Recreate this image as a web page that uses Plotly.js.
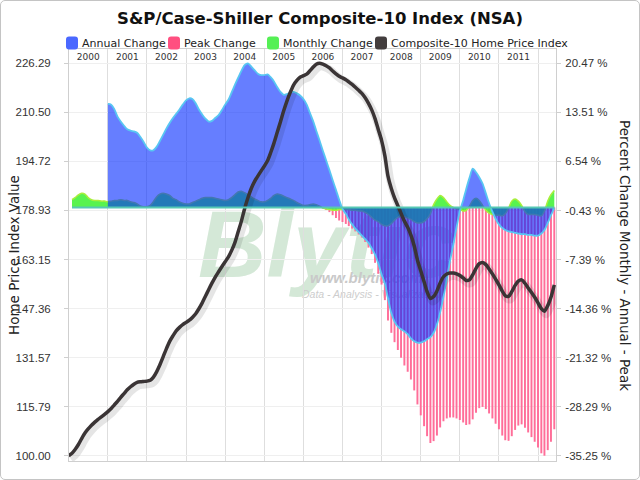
<!DOCTYPE html>
<html>
<head>
<meta charset="utf-8">
<script src="https://cdn.plot.ly/plotly-3.0.1.min.js"></script>
<style>
html,body{margin:0;padding:0;background:#fff;}
#wrap{position:relative;width:640px;height:480px;overflow:hidden;background:#fff;}
#wm{position:absolute;left:0;top:0;z-index:0;}
#chart{position:absolute;left:0;top:0;width:640px;height:480px;z-index:1;}
#frame{position:absolute;left:0;top:0;width:638px;height:478px;border:1px solid #c4c4c4;border-radius:5px;z-index:2;pointer-events:none;}
</style>
</head>
<body>
<div id="wrap">
  <svg id="wm" width="640" height="480" xmlns="http://www.w3.org/2000/svg">
    <text x="198" y="277" font-family="Liberation Sans" font-style="italic" font-weight="bold" font-size="95" fill="#d4e8d7">Blytic</text>
    <text x="310" y="283" font-family="Liberation Sans" font-style="italic" font-weight="bold" font-size="15" fill="#c9c9c9">www.blytic.com</text>
    <text x="302" y="298" font-family="Liberation Sans" font-style="italic" font-size="10.5" fill="#cdcdcd">Data - Analysis - Visualization</text>
  </svg>
  <div id="chart"></div>
  <div id="frame"></div>
</div>
<script>
// ---------------- data (monthly) ----------------
const firstYear = 2000;
const years = ['2000','2001','2002','2003','2004','2005','2006','2007','2008','2009','2010','2011'];

// Composite-10 Home Price Index, Jan 2000 .. Jun 2012
const indexStart = 0;
const indexValues = [
  100.0,100.8,102.0,103.6,105.5,107.3,108.6,109.8,110.8,111.7,112.5,113.3,
  114.2,115.2,116.3,117.5,118.8,120.0,121.2,122.2,123.0,123.6,123.8,123.9,
  124.0,124.3,125.2,127.0,129.2,131.8,134.4,136.8,138.6,140.2,141.3,142.2,
  142.9,143.6,144.5,145.7,147.3,149.2,151.3,153.5,155.6,157.5,159.2,160.8,
  162.4,164.0,166.0,168.6,172.0,175.5,179.5,183.0,186.0,188.2,190.0,191.6,
  193.2,195.0,197.5,200.6,204.0,207.5,211.0,214.2,217.0,219.3,220.8,221.8,
  222.3,222.8,223.8,225.0,226.0,226.29,226.0,225.5,224.8,223.8,222.9,222.1,
  221.6,221.0,220.3,219.5,218.6,217.6,216.6,215.2,213.4,211.3,208.5,205.0,
  201.5,196.5,190.0,186.0,183.0,180.5,178.0,175.5,173.5,171.0,167.5,163.0,
  159.5,156.0,152.8,150.6,151.2,153.0,155.6,157.6,158.5,158.8,158.8,158.5,
  158.0,157.2,156.4,156.6,158.2,160.3,161.8,162.2,161.5,160.1,158.5,156.8,
  155.0,153.0,151.5,151.3,152.8,154.8,156.2,156.6,155.5,154.0,152.5,151.0,
  149.2,147.3,146.5,148.3,151.0,155.0
];

// Monthly change (%), Feb 2000 .. Jun 2012
const monthlyStart = 1;
const monthlyChange = [
  1.1,1.4,1.8,2.0,1.9,1.4,1.1,1.0,1.0,0.9,0.9,
  0.8,0.9,1.0,1.0,1.1,1.0,1.0,0.8,0.7,0.5,0.2,0.1,
  0.1,0.3,0.8,1.5,1.9,2.0,1.9,1.7,1.3,1.1,0.8,0.6,
  0.5,0.5,0.7,0.9,1.1,1.3,1.4,1.4,1.4,1.3,1.2,1.1,
  1.0,1.1,1.4,1.8,2.2,2.3,2.1,1.8,1.5,1.2,1.0,0.8,
  0.8,1.0,1.3,1.7,1.9,1.8,1.6,1.4,1.2,1.0,0.7,0.5,
  0.3,0.3,0.4,0.5,0.4,0.2,-0.1,-0.2,-0.3,-0.4,-0.4,-0.3,
  -0.3,-0.3,-0.3,-0.4,-0.4,-0.5,-0.5,-0.7,-1.0,-1.4,-1.8,-2.0,
  -2.4,-2.6,-2.6,-2.3,-1.8,-1.4,-1.2,-1.3,-1.5,-1.7,-2.0,-2.2,
  -2.2,-2.0,-1.6,-0.9,0.4,1.2,1.7,1.4,0.8,0.3,0.0,-0.2,
  -0.3,-0.5,-0.4,0.2,1.0,1.3,1.0,0.3,-0.4,-0.8,-1.0,-1.1,
  -1.1,-1.2,-0.9,-0.1,0.9,1.2,0.9,0.3,-0.6,-1.0,-1.0,-1.0,
  -1.1,-1.2,-0.5,0.9,1.8,2.4
];

// Annual change (%), Jan 2001 .. Jun 2012
const annualStart = 12;
const annualChange = [
  14.7,14.6,14.0,12.9,12.2,11.6,11.1,10.9,10.8,10.6,10.0,9.3,
  8.5,8.1,8.1,8.6,9.4,10.3,11.2,12.0,12.7,13.3,13.9,14.6,
  15.2,15.5,15.4,14.8,13.9,13.2,12.6,12.2,12.3,12.7,13.1,13.8,
  14.6,15.3,16.3,17.4,18.4,19.4,20.2,20.47,20.0,19.5,19.0,18.8,
  18.8,18.9,18.5,17.9,17.1,16.4,16.0,16.1,16.3,16.4,16.2,15.9,
  15.4,14.6,13.5,12.3,10.9,9.5,8.1,6.7,5.3,3.9,2.5,1.1,
  -0.2,-0.9,-1.7,-2.4,-3.0,-3.5,-4.0,-4.5,-5.0,-5.8,-6.7,-7.9,
  -9.5,-10.8,-12.9,-15.0,-16.2,-16.9,-17.3,-17.6,-18.0,-18.6,-19.0,-19.2,
  -19.2,-19.0,-18.7,-18.4,-17.8,-16.6,-14.9,-12.7,-10.2,-7.6,-5.3,-2.8,
  -0.5,1.0,2.6,4.2,5.5,5.0,4.3,3.4,2.0,0.6,-0.6,-1.6,
  -2.4,-2.9,-3.2,-3.4,-3.5,-3.6,-3.7,-3.8,-3.8,-3.9,-3.9,-4.0,
  -4.0,-3.7,-3.2,-2.2,-1.1,-0.1
];

// Change from peak (%), Jul 2006 .. Jun 2012
const peakStart = 78;
const peakChange = [
  -0.13,-0.35,-0.66,-1.10,-1.50,-1.85,
  -2.07,-2.34,-2.65,-3.00,-3.40,-3.84,-4.28,-4.90,-5.70,-6.62,-7.86,-9.41,
  -10.95,-13.16,-16.04,-17.80,-19.13,-20.24,-21.34,-22.44,-23.33,-24.43,-25.98,-27.97,
  -29.52,-31.06,-32.48,-33.45,-33.18,-32.39,-31.24,-30.36,-29.96,-29.82,-29.82,-29.96,
  -30.18,-30.53,-30.89,-30.80,-30.09,-29.16,-28.50,-28.32,-28.63,-29.25,-29.96,-30.71,
  -31.50,-32.39,-33.05,-33.14,-32.48,-31.59,-30.97,-30.80,-31.28,-31.95,-32.61,-33.27,
  -34.07,-34.91,-35.25,-34.46,-33.27,-31.50
];

// axis tick values
const priceTicks = [100.00,115.79,131.57,147.36,163.15,178.93,194.72,210.50,226.29];
const pctTicks = [-35.25,-28.29,-21.32,-14.36,-7.39,-0.43,6.54,13.51,20.47];

// legend entries
const legendNames = ['Annual Change','Peak Change','Monthly Change','Composite-10 Home Price Index'];
const legendColors = ['#4a68ff','#ff4f80','#55f055','#433d3e'];

// ---------------- helpers ----------------
function monthDate(m){
  const y = firstYear + Math.floor(m/12);
  const mo = (m % 12) + 1;
  return y + '-' + String(mo).padStart(2,'0') + '-01';
}
function datesFor(start, arr){ return arr.map((_, i) => monthDate(start + i)); }
function iso(ms){ return new Date(ms).toISOString().slice(0,19).replace('T',' '); }

// ---------------- geometry ----------------
const mL = 69, mR = 84, mT = 49, mB = 19;
const plotW = 640 - mL - mR, plotH = 480 - mT - mB;
const plotBottomPx = 480 - mB;
const px2x = px => (px - mL) / plotW;
const px2y = py => (plotBottomPx - py) / plotH;
const tickTopGap = 14.3, tickBotGap = 5.3;          // px between end ticks and plot edge
const tickSpan = plotH - tickTopGap - tickBotGap;

const pMin = priceTicks[0], pMax = priceTicks[priceTicks.length-1];
const pU = (pMax - pMin) / tickSpan;
const priceRange = [pMin - tickBotGap*pU, pMax + tickTopGap*pU];
const cMin = pctTicks[0], cMax = pctTicks[pctTicks.length-1];
const cU = (cMax - cMin) / tickSpan;
const pctRange = [cMin - tickBotGap*cU, cMax + tickTopGap*cU];

const xStart = Date.UTC(2000,0,4), xEnd = Date.UTC(2012,5,17);
const msPx = (xEnd - xStart) / plotW;
const xRange = [iso(xStart), iso(xEnd)];
const shDX = 2, shDY = 3;
const xShadowRange = [iso(xStart - shDX*msPx), iso(xEnd - shDX*msPx)];
const yShadowRange = [priceRange[0] + shDY*pU, priceRange[1] + shDY*pU];

const yearStarts = years.slice(1).map(y => y + '-01-01').concat([(+years[years.length-1] + 1) + '-01-01']);
const yearMids = years.map(y => y + '-07-02');

const indexDates = datesFor(indexStart, indexValues);
const monthlyDates = datesFor(monthlyStart, monthlyChange);

// ---------------- traces ----------------
const traces = [
  {
    type: 'bar', name: legendNames[1],
    x: datesFor(peakStart, peakChange), y: peakChange,
    xaxis: 'x', yaxis: 'y',
    marker: {color: '#ff6e99', line: {width: 0}},
    hoverinfo: 'skip'
  },
  {
    type: 'scatter', mode: 'lines', name: legendNames[2],
    x: monthlyDates, y: monthlyChange,
    xaxis: 'x', yaxis: 'y', fill: 'tozeroy',
    fillcolor: 'rgba(70,242,60,0.9)',
    line: {color: '#a9ee3c', width: 1.5, shape: 'spline', smoothing: 0.7},
    hoverinfo: 'skip'
  },
  {
    type: 'scatter', mode: 'lines', name: legendNames[0],
    x: datesFor(annualStart, annualChange), y: annualChange,
    xaxis: 'x', yaxis: 'y', fill: 'tozeroy',
    fillcolor: 'rgba(0,40,255,0.6)',
    line: {color: '#58c6f2', width: 1.8, shape: 'spline', smoothing: 0.7},
    hoverinfo: 'skip'
  },
  {
    type: 'scatter', mode: 'lines', name: 'shadow',
    x: indexDates, y: indexValues, xaxis: 'x2', yaxis: 'y2',
    line: {color: 'rgba(0,0,0,0.10)', width: 8, shape: 'spline', smoothing: 0.7},
    hoverinfo: 'skip'
  },
  {
    type: 'scatter', mode: 'lines', name: legendNames[3],
    x: indexDates, y: indexValues, xaxis: 'x3', yaxis: 'y3',
    line: {color: '#3a3435', width: 3.5, shape: 'spline', smoothing: 0.7},
    hoverinfo: 'skip'
  }
];

// ---------------- legend (drawn as shapes + text, single row) ----------------
const legendBoxLeft = [66, 168, 267, 375];
const legendY = 43, boxW = 12, boxH = 13, boxR = 3;
function roundRect(x0, y0, x1, y1, r){
  const X = px2x, Y = px2y;
  return 'M' + X(x0+r) + ',' + Y(y0) + ' L' + X(x1-r) + ',' + Y(y0) +
    ' Q' + X(x1) + ',' + Y(y0) + ' ' + X(x1) + ',' + Y(y0+r) +
    ' L' + X(x1) + ',' + Y(y1-r) +
    ' Q' + X(x1) + ',' + Y(y1) + ' ' + X(x1-r) + ',' + Y(y1) +
    ' L' + X(x0+r) + ',' + Y(y1) +
    ' Q' + X(x0) + ',' + Y(y1) + ' ' + X(x0) + ',' + Y(y1-r) +
    ' L' + X(x0) + ',' + Y(y0+r) +
    ' Q' + X(x0) + ',' + Y(y0) + ' ' + X(x0+r) + ',' + Y(y0) + ' Z';
}
const legendShapes = legendNames.map((n, i) => ({
  type: 'path', xref: 'paper', yref: 'paper', layer: 'above',
  path: roundRect(legendBoxLeft[i], legendY - boxH/2, legendBoxLeft[i] + boxW, legendY + boxH/2, boxR),
  fillcolor: legendColors[i], line: {width: 0}
}));
const legendTexts = legendNames.map((n, i) => ({
  text: n, xref: 'paper', yref: 'paper',
  x: px2x(legendBoxLeft[i] + boxW + 2), y: px2y(legendY),
  xanchor: 'left', yanchor: 'middle', showarrow: false,
  font: {family: 'DejaVu Sans, sans-serif', size: 11, color: '#222'}
}));

const tickFont = {family: 'Liberation Sans, Arial, sans-serif', size: 11.5, color: '#333'};
const axisTitleFont = {family: 'DejaVu Sans, sans-serif', size: 13.5, color: '#222'};

const layout = {
  width: 640, height: 480,
  margin: {l: mL, r: mR, t: mT, b: mB, pad: 0},
  paper_bgcolor: 'rgba(0,0,0,0)', plot_bgcolor: 'rgba(0,0,0,0)',
  font: {family: 'DejaVu Sans, sans-serif', size: 11, color: '#222'},
  bargap: 0.35,
  showlegend: false,
  title: {
    text: 'S&P/Case-Shiller Composite-10 Index (NSA)',
    font: {family: 'DejaVu Sans, sans-serif', size: 16.5, color: '#111', weight: 'bold'},
    x: 0.5, xref: 'container', xanchor: 'center',
    y: 1 - 18/480, yref: 'container', yanchor: 'middle'
  },
  xaxis: {
    type: 'date', range: xRange, tickvals: yearStarts, ticktext: yearStarts.map(() => ''),
    showgrid: true, gridcolor: '#dedede', gridwidth: 1,
    showline: true, mirror: true, linecolor: '#cfcfcf', linewidth: 1,
    ticks: '', zeroline: false, fixedrange: true
  },
  yaxis: {
    range: pctRange, side: 'right', tickvals: pctTicks,
    ticktext: pctTicks.map(v => v.toFixed(2) + ' %'),
    showgrid: true, gridcolor: '#efefef', zeroline: false,
    showline: true, mirror: true, linecolor: '#cfcfcf',
    ticks: 'outside', ticklen: 4, tickcolor: '#cfcfcf',
    tickfont: tickFont, ticklabelstandoff: 2, fixedrange: true
  },
  xaxis2: {type: 'date', overlaying: 'x', range: xShadowRange, visible: false, fixedrange: true},
  yaxis2: {overlaying: 'y', range: yShadowRange, visible: false, fixedrange: true},
  xaxis3: {
    type: 'date', overlaying: 'x', side: 'top', range: xRange,
    tickvals: yearMids, ticktext: years, ticklabelposition: 'inside',
    tickfont: {family: 'DejaVu Sans, sans-serif', size: 9, color: '#333'},
    ticklabelstandoff: 2,
    showgrid: false, zeroline: false, showline: false, ticks: '', fixedrange: true
  },
  yaxis3: {
    overlaying: 'y', side: 'left', range: priceRange, tickvals: priceTicks,
    ticktext: priceTicks.map(v => v.toFixed(2)),
    showgrid: false, zeroline: false, showline: false,
    ticks: 'outside', ticklen: 4, tickcolor: '#cfcfcf',
    tickfont: tickFont, ticklabelstandoff: 11,
    fixedrange: true
  },
  shapes: [{
    type: 'line', xref: 'x', yref: 'y', layer: 'above',
    x0: monthlyDates[0], x1: monthlyDates[monthlyDates.length-1], y0: 0, y1: 0,
    line: {color: '#56c8b4', width: 2}
  }].concat(legendShapes),
  annotations: [{
    text: 'Home Price Index Value',
    xref: 'paper', yref: 'paper', x: px2x(14), y: 0.5,
    xanchor: 'center', yanchor: 'middle', textangle: -90, showarrow: false,
    font: axisTitleFont
  }, {
    text: 'Percent Change Monthly - Annual - Peak',
    xref: 'paper', yref: 'paper', x: px2x(625), y: 0.5,
    xanchor: 'center', yanchor: 'middle', textangle: 90, showarrow: false,
    font: axisTitleFont
  }].concat(legendTexts)
};

Plotly.newPlot('chart', traces, layout, {displayModeBar: false, staticPlot: true});
</script>
</body>
</html>
